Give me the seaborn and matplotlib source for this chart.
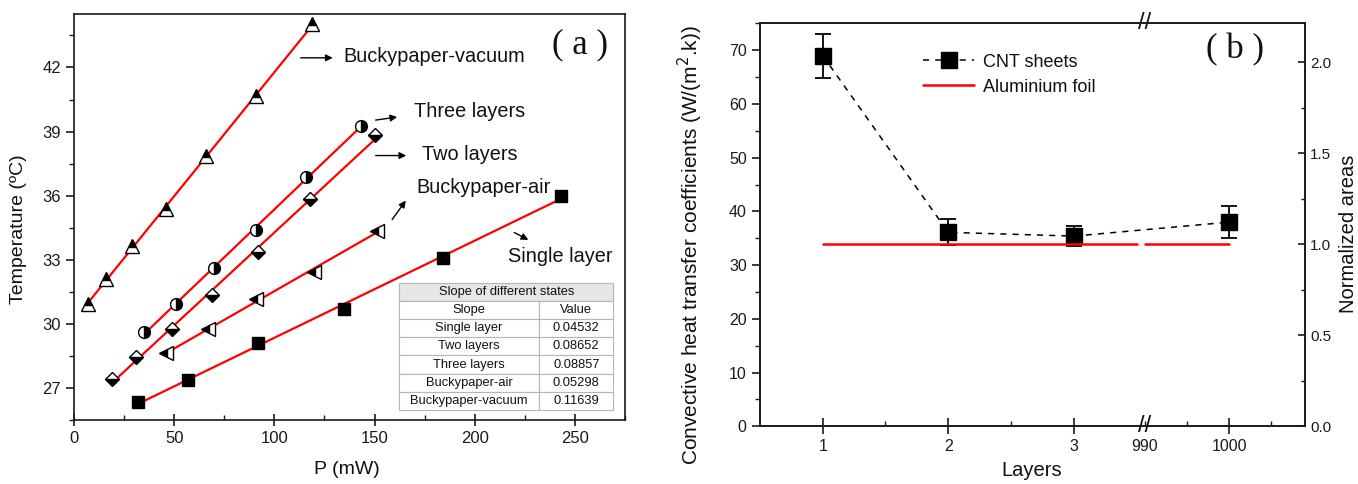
import numpy as np
import pandas as pd
import matplotlib
matplotlib.use("Agg")
import matplotlib.pyplot as plt
from matplotlib.ticker import MultipleLocator, FixedLocator, FixedFormatter, FormatStrFormatter
import seaborn as sns

# panel (a): temperature vs power
p_vacuum = [7, 16, 29, 46, 66, 91, 119]
t_vacuum = [30.95, 32.1, 33.65, 35.4, 37.85, 40.65, 44.05]
p_three = [35, 51, 70, 91, 116, 143]
t_three = [29.65, 30.95, 32.6, 34.4, 36.9, 39.25]
p_two = [19, 31, 49, 69, 92, 118, 150]
t_two = [27.45, 28.45, 29.75, 31.35, 33.35, 35.85, 38.85]
p_air = [46, 67, 91, 120, 151]
t_air = [28.65, 29.75, 31.15, 32.45, 34.35]
p_single = [32, 57, 92, 135, 184, 243]
t_single = [26.35, 27.4, 29.1, 30.7, 33.1, 36.0]

tabla_titulo = "Slope of different states"
tabla_cols = ["Slope", "Value"]
tabla_estados = ["Single layer", "Two layers", "Three layers", "Buckypaper-air", "Buckypaper-vacuum"]
tabla_valores = ["0.04532", "0.08652", "0.08857", "0.05298", "0.11639"]

# panel (b): convective coefficient vs layers
capas = [1, 2, 3, 1000]
h_cnt = [69.0, 36.1, 35.4, 38.0]
h_err = [4.1, 2.4, 1.9, 3.0]
alu_x1 = [1, 3.5]
alu_x2 = [990, 1000]
alu_norm = 1.0
capas_ticks = [1, 2, 3, 1000]
capas_labels = ["1", "2", "3", "1000"]

sns.set_style("ticks")
plt.rcParams["font.family"] = ["Liberation Sans", "DejaVu Sans"]
plt.rcParams["axes.linewidth"] = 1.2
plt.rcParams["axes.edgecolor"] = "#1a1a1a"
plt.rcParams["xtick.color"] = "#1a1a1a"
plt.rcParams["ytick.color"] = "#1a1a1a"
plt.rcParams["text.color"] = "#111111"
plt.rcParams["axes.labelcolor"] = "#111111"
plt.rcParams["xtick.major.width"] = 1.2
plt.rcParams["ytick.major.width"] = 1.2
plt.rcParams["xtick.minor.width"] = 1.0
plt.rcParams["ytick.minor.width"] = 1.0

fig = plt.figure(figsize=(13.58, 4.84), dpi=100)
ax_a = fig.add_axes([0.0545, 0.1316, 0.4057, 0.8395])
ax_b = fig.add_axes([0.5596, 0.1192, 0.4015, 0.8326])

# ---------- panel (a) ----------
series = [
    (p_vacuum, t_vacuum, "^", "top", 9.5),
    (p_three, t_three, "o", "right", 8.5),
    (p_two, t_two, "D", "bottom", 6.8),
    (p_air, t_air, "<", "left", 9.5),
    (p_single, t_single, "s", "full", 8.5),
]
for px, ty, marca, relleno, tam in series:
    sns.regplot(x=np.array(px), y=np.array(ty), ax=ax_a, scatter=False, ci=None,
                color="red", line_kws={"lw": 1.6, "zorder": 2})
    ax_a.plot(px, ty, marker=marca, ls="none", ms=tam, mfc="black", mfcalt="white",
              mec="black", mew=1.0, fillstyle=relleno, zorder=3)

ax_a.set_xlim(0, 275)
ax_a.set_ylim(25.5, 44.5)
ax_a.xaxis.set_major_locator(MultipleLocator(50))
ax_a.xaxis.set_minor_locator(MultipleLocator(25))
ax_a.yaxis.set_major_locator(MultipleLocator(3))
ax_a.yaxis.set_minor_locator(MultipleLocator(1.5))
ax_a.tick_params(axis="x", which="major", direction="inout", length=9, labelsize=12)
ax_a.tick_params(axis="x", which="minor", direction="in", length=3.5)
ax_a.tick_params(axis="y", which="major", direction="out", length=6, labelsize=12)
ax_a.tick_params(axis="y", which="minor", direction="out", length=3.5)
for lado in ["top", "right"]:
    ax_a.spines[lado].set_visible(True)
ax_a.set_xlabel("P (mW)", fontsize=14)
ax_a.set_ylabel("Temperature (ºC)", fontsize=14)
ax_a.xaxis.set_label_coords(0.495, -0.10)
ax_a.yaxis.set_label_coords(-0.085, 0.47)

flecha = dict(arrowstyle="-|>", color="black", lw=1.0, mutation_scale=10)
notas = [
    ("Buckypaper-vacuum", (134.7, 42.49), (111.8, 42.45), (130.5, 42.45)),
    ("Three layers", (169.7, 39.94), (149.2, 39.52), (162.7, 39.70)),
    ("Two layers", (173.9, 37.91), (149.2, 37.88), (167.2, 37.88)),
    ("Buckypaper-air", (171.0, 36.39), (158.0, 34.78), (166.4, 35.88)),
    ("Single layer", (216.4, 33.17), (218.5, 34.34), (228.0, 33.88)),
]
for texto, pos, ini, fin in notas:
    ax_a.text(pos[0], pos[1], texto, fontsize=14.3, ha="left", va="center")
    ax_a.annotate("", xy=fin, xytext=ini, arrowprops=flecha)

ax_a.text(0.918, 0.924, "( a )", transform=ax_a.transAxes, fontsize=25,
          family="Liberation Serif", ha="center", va="center")

t1 = ax_a.table(cellText=[[tabla_titulo]], cellLoc="center",
                bbox=[0.590, 0.2944, 0.389, 0.0436])
filas = [tabla_cols] + [[e, v] for e, v in zip(tabla_estados, tabla_valores)]
t2 = ax_a.table(cellText=filas, cellLoc="center", colWidths=[0.654, 0.346],
                bbox=[0.590, 0.0246, 0.389, 0.2698])
for tab in (t1, t2):
    tab.auto_set_font_size(False)
    tab.set_fontsize(9.3)
    for (r, c), celda in tab.get_celld().items():
        celda.set_edgecolor("#b5b5b5")
        celda.set_linewidth(0.8)
        celda.set_facecolor("white")
t1[0, 0].set_facecolor("#e6e6e6")

# ---------- panel (b) ----------
def adelante(x):
    x = np.asarray(x, dtype=float)
    return np.where(x < 500, x, 3.566 + (x - 990) * 0.0672)


def atras(y):
    y = np.asarray(y, dtype=float)
    return np.where(y < 3.566, y, 990 + (y - 3.566) / 0.0672)


ax_b.set_xscale("function", functions=(adelante, atras))
eb = ax_b.errorbar(capas, h_cnt, yerr=h_err, fmt="s", ls="--", dashes=(4, 4),
                   color="black", ms=11, lw=1.1, elinewidth=1.3, capsize=6,
                   capthick=1.3, zorder=3)
ax_b.set_ylim(0, 75)
ax_b.yaxis.set_major_locator(MultipleLocator(10))
ax_b.yaxis.set_minor_locator(MultipleLocator(5))

ax_r = ax_b.twinx()
alu = pd.DataFrame({
    "x": alu_x1 + alu_x2,
    "y": [alu_norm] * 4,
    "seg": [0, 0, 1, 1],
})
sns.lineplot(data=alu, x="x", y="y", units="seg", estimator=None, ax=ax_r,
             color="red", lw=1.8, legend=False)
ax_r.set_ylim(0, 75 / 33.9)
ax_r.yaxis.set_major_locator(MultipleLocator(0.5))
ax_r.yaxis.set_minor_locator(MultipleLocator(0.25))
ax_r.yaxis.set_major_formatter(FormatStrFormatter("%.1f"))
ax_r.tick_params(axis="y", which="major", direction="in", length=5, labelsize=11)
ax_r.tick_params(axis="y", which="minor", direction="in", length=3)
ax_r.set_ylabel("Normalized areas", fontsize=14.5)
ax_r.yaxis.set_label_coords(1.062, 0.478)

ax_b.set_xlim(0.5, 1009)
ax_b.xaxis.set_major_locator(FixedLocator(capas_ticks))
ax_b.xaxis.set_major_formatter(FixedFormatter(capas_labels))
ax_b.xaxis.set_minor_locator(FixedLocator([1.5, 2.5, 990, 995, 1005]))
ax_b.xaxis.set_minor_formatter(FixedFormatter(["", "", "990", "", ""]))
ax_b.tick_params(axis="x", which="major", direction="inout", length=11, labelsize=11.5)
ax_b.tick_params(axis="x", which="minor", direction="in", length=3.5, labelsize=11.5,
                 pad=3.5 + 5.5)
ax_b.tick_params(axis="y", which="major", direction="out", length=6, labelsize=11.5)
ax_b.tick_params(axis="y", which="minor", direction="out", length=3.5)
ax_b.set_xlabel("Layers", fontsize=14.5)
ax_b.set_ylabel("Convective heat transfer coefficients (W/(m$^2$.k))", fontsize=15)
ax_b.xaxis.set_label_coords(0.499, -0.085)
ax_b.yaxis.set_label_coords(-0.1, 0.45)

for yy in (0, 1):
    ax_b.text(990, yy, "//", transform=ax_b.get_xaxis_transform(), ha="center",
              va="center", fontsize=17, zorder=5)

ax_b.text(0.872, 0.934, "( b )", transform=ax_b.transAxes, fontsize=25,
          family="Liberation Serif", ha="center", va="center")

ax_r.legend([eb[0], ax_r.get_lines()[0]], ["CNT sheets", "Aluminium foil"],
            loc="upper left", bbox_to_anchor=(0.27, 0.965), frameon=False,
            fontsize=13, handlelength=2.8, handletextpad=0.5, labelspacing=0.45)

fig.savefig("out.png", dpi=100)
plt.close(fig)
